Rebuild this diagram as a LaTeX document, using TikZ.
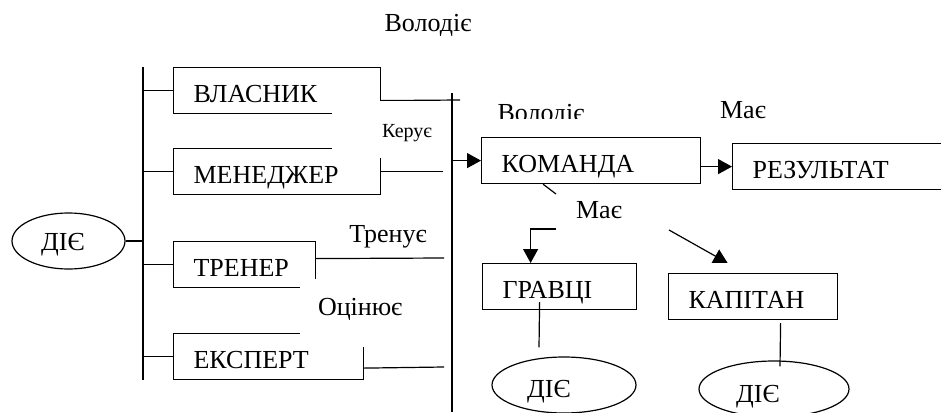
\documentclass[tikz,border=0pt]{standalone}
\usepackage{fontspec}
\setmainfont{Liberation Serif}
\newfontfamily\timesfont{Liberation Serif}
\usetikzlibrary{arrows.meta, shapes.geometric, calc}
\tikzset{>={Triangle[length=14pt,width=15pt]}}
\tikzset{
  box/.style={draw, rectangle, anchor=north west, inner xsep=20pt, inner ysep=4pt,
    text height=31pt, text depth=7pt, align=left, font=\timesfont\fontsize{26}{30}\selectfont},
  oval/.style={draw, ellipse, inner sep=0pt, minimum height=56pt},
  lbl/.style={inner sep=0pt, font=\timesfont\fontsize{26}{30}\selectfont},
  cover/.style={fill=white, inner ysep=0pt}
}

\begin{document}
\begin{tikzpicture}[x=1pt, y=-1pt, line width=1.2pt]
      \useasboundingbox (0,0) rectangle (941,412);
      \clip (0,0) rectangle (941,412);
      \node[box, text width=167pt] (vlasnyk) at (173,67) {ВЛАСНИК};
      \node[box, text width=167pt] (menedzher) at (173,148) {МЕНЕДЖЕР};
      \node[box, text width=102pt] (trener) at (173,241) {ТРЕНЕР};
      \node[box, text width=150pt] (ekspert) at (173,333) {ЕКСПЕРТ};
      \node[box, text width=179pt] (komanda) at (481,137) {КОМАНДА};
      \node[box, text width=188pt] (rezultat) at (732,143) {РЕЗУЛЬТАТ};
      \node[box, text width=114pt] (gravtsi) at (482,263) {ГРАВЦІ};
      \node[box, text width=129pt] (kapitan) at (668,273) {КАПІТАН};
      \node[oval, minimum width=113pt] (die1) at (68.5,241) {};
      \node[oval, minimum width=144pt] (die2) at (564,385) {};
      \node[oval, minimum width=150pt] (die3) at (774,389) {};
      \node[lbl, anchor=base] (die1txt) at ([shift={(-5.5pt,-9pt)}]die1.center) {ДІЄ};
      \node[lbl, anchor=base] (die2txt) at ([shift={(-15pt,-12pt)}]die2.center) {ДІЄ};
      \node[lbl, anchor=base] (die3txt) at ([shift={(-16pt,-13pt)}]die3.center) {ДІЄ};
      \coordinate (lbtop) at (143,67);
      \coordinate (lbbot) at (143,380);
      \coordinate (rbtop) at (452,93);
      \coordinate (rbbot) at (452,412);
      \draw (lbtop) -- (lbbot);
      \draw (rbtop) -- (rbbot);
      \foreach \n in {vlasnyk, menedzher, trener, ekspert}
        \draw (\n.west) -- (\n.west -| lbtop);
      \draw (die1.east) -- (die1.east -| lbtop);
      \coordinate (vlend) at (460,100);
      \coordinate (stop) at (443,0);
      \coordinate (trend) at (444,258);
      \coordinate (ekend) at (444,367);
      \draw ([yshift=-10pt]vlasnyk.east) -- (vlend);
      \draw (menedzher.east) -- (menedzher.east -| stop);
      \draw ([yshift=6pt]trener.east) -- (trend);
      \draw ([yshift=-11.5pt]ekspert.east) -- (ekend);
      \draw[->] (komanda.west -| rbtop) -- (komanda.west);
      \draw[->] (rezultat.west -| komanda.east) -- (rezultat.west);
      \coordinate (stubend) at (556,194);
      \coordinate (elbow) at (556,229);
      \coordinate (diag) at (669,230);
      \draw ([xshift=-48pt]komanda.south) -- (stubend);
      \draw[->] (elbow) -| ([xshift=-29pt]gravtsi.north);
      \draw[->] (diag) -- ([shift={(-25.5pt,10pt)}]kapitan.north);
      \draw ([shift={(-20pt,8pt)}]gravtsi.south) -- ([shift={(-25pt,9pt)}]die2.north);
      \draw ([shift={(27.5pt,-3pt)}]kapitan.south) -- ([shift={(6pt,-6pt)}]die3.north);
      \node[cover, minimum width=108pt, minimum height=57pt, text width=92pt, inner xsep=8pt,
        align=right, text height=19pt, text depth=4pt, font=\timesfont\fontsize{20}{24}\selectfont]
        (kerue) at (386,129.5) {Керує};
      \node[cover, minimum width=140pt, minimum height=68pt, text width=104pt, inner xsep=18pt,
        align=left, text height=12pt, text depth=8pt, font=\timesfont\fontsize{26}{30}\selectfont]
        (otsiniue) at (370,313) {Оцінює};
      \node[lbl, anchor=base] (volodiie) at (428,32) {Володіє};
      \node[lbl, anchor=base] (trenue) at (388,242) {Тренує};
      \node[lbl, anchor=base] (mae) at (743,118) {Має};
      \node[lbl, anchor=base] (mae2) at (599,218) {Має};
      \begin{scope}
        \clip (480,90) rectangle (600,118);
        \node[lbl, anchor=base] (volodiie2) at (541,121) {Володіє};
      \end{scope}
    \end{tikzpicture}
\end{document}
